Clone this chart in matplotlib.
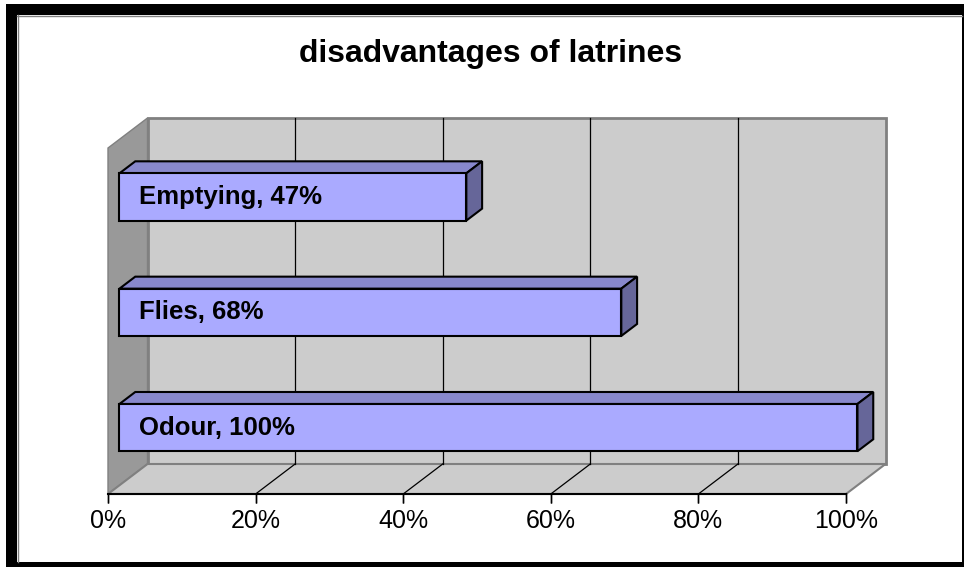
import matplotlib
matplotlib.use("Agg")
import matplotlib.pyplot as plt
from matplotlib.patches import Polygon, Rectangle
from matplotlib.transforms import Affine2D

plt.rcParams["font.family"] = ["Liberation Sans", "DejaVu Sans"]

# chart data
categories = ["Odour", "Flies", "Emptying"]
values = [1.00, 0.68, 0.47]
ticks = [0.0, 0.2, 0.4, 0.6, 0.8, 1.0]
tick_labels = ["0%", "20%", "40%", "60%", "80%", "100%"]
title = "disadvantages of latrines"

# pseudo-3d look: pixel shift for full depth, bar depth range, bar half height
DX, DY = 39.5, 30.0
BAR_D0, BAR_D1 = 0.29, 0.69
HALF = 0.205

FRONT = "#AAAAFF"
TOP = "#8888CC"
SIDE = "#666699"
WALL = "#CCCCCC"
SIDE_WALL = "#999999"
EDGE = "#808080"

fig = plt.figure(figsize=(9.64, 5.67), dpi=100)
ax = fig.add_axes([108 / 964, 73 / 567, 738 / 964, 346 / 567])
ax.set_xlim(0, 1)
ax.set_ylim(0, len(categories))
ax.axis("off")


def depth(d, dx=0.0, dy=0.0):
    # data coords on the front plane pushed back by depth d (0..1)
    return ax.transData + Affine2D().translate(d * DX + dx, d * DY + dy)


def quad(pts, tr, **kw):
    p = Polygon(pts, closed=True, transform=tr, clip_on=False, **kw)
    ax.add_patch(p)
    return p


n = len(categories)
# depth step in data units
ux = DX / 738
uy = DY / 346 * n

# back wall, left wall and floor
quad([(0, 0), (1, 0), (1, n), (0, n)], depth(1), facecolor=WALL, edgecolor=EDGE, lw=2, zorder=1)
quad([(0, 0), (0, n), (ux, n + uy), (ux, uy)], depth(0),
     facecolor=SIDE_WALL, edgecolor=EDGE, lw=1, zorder=1)
quad([(0, 0), (1, 0), (1 + ux, uy), (ux, uy)], depth(0),
     facecolor=WALL, edgecolor=EDGE, lw=1.5, zorder=1)

# gridlines on back wall and across the floor
for t in ticks[1:-1]:
    ax.plot([t, t], [0, n], color="black", lw=0.9, transform=depth(1), clip_on=False, zorder=2)
    ax.plot([t, t + ux], [0, uy], color="black", lw=0.9, clip_on=False, zorder=2)

# value axis with ticks and labels
ax.plot([0, 1], [0, 0], color="black", lw=1.5, clip_on=False, zorder=3)
for t, lab in zip(ticks, tick_labels):
    ax.plot([t, t], [0, 0], marker=(2, 0, 0), markersize=7, color="black",
            transform=depth(0, dy=-3.5), clip_on=False, zorder=3)
    ax.text(t, 0, lab, transform=depth(0, dy=-27), ha="center", va="center",
            fontsize=18, clip_on=False)

# bars: front, top and right faces plus the in-bar label
for i, (cat, v) in enumerate(zip(categories, values)):
    y0, y1 = i + 0.5 - HALF, i + 0.5 + HALF
    ddx = (BAR_D1 - BAR_D0) * ux
    ddy = (BAR_D1 - BAR_D0) * uy
    tr = depth(BAR_D0)
    quad([(0, y1), (v, y1), (v + ddx, y1 + ddy), (ddx, y1 + ddy)], tr,
         facecolor=TOP, edgecolor="black", lw=1.5, zorder=5)
    quad([(v, y0), (v + ddx, y0 + ddy), (v + ddx, y1 + ddy), (v, y1)], tr,
         facecolor=SIDE, edgecolor="black", lw=1.5, zorder=5)
    quad([(0, y0), (v, y0), (v, y1), (0, y1)], tr,
         facecolor=FRONT, edgecolor="black", lw=1.5, zorder=6)
    ax.text(0.027, i + 0.5, f"{cat}, {round(v * 100)}%", transform=tr,
            ha="left", va="center", fontsize=18.5, fontweight="bold", zorder=7)

fig.text(491 / 964, (567 - 62) / 567, title, ha="center", va="baseline",
         fontsize=23, fontweight="bold")

# chart border
for x, y, w, h in [(6, 552, 958, 11), (6, 0, 11, 563), (962, 0, 2, 563), (6, 0, 958, 5)]:
    fig.patches.append(Rectangle((x / 964, y / 567), w / 964, h / 567,
                                 transform=fig.transFigure, facecolor="black", edgecolor="none"))
fig.add_artist(plt.Line2D([17 / 964, 962 / 964], [551.5 / 567] * 2, transform=fig.transFigure,
                          color=EDGE, lw=1))
fig.add_artist(plt.Line2D([17.5 / 964] * 2, [5 / 567, 552 / 567], transform=fig.transFigure,
                          color=EDGE, lw=1))

fig.savefig("out.png", dpi=100)
